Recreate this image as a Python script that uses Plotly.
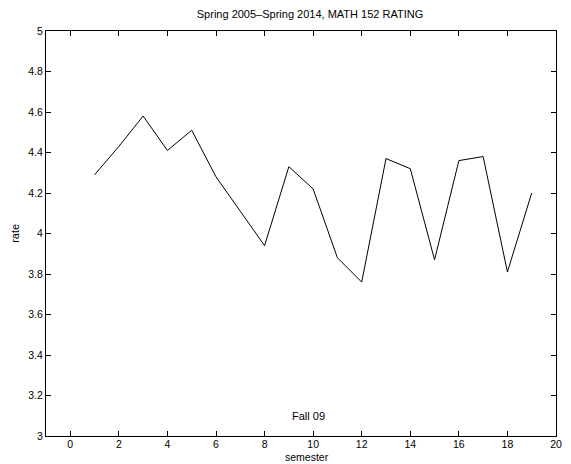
import plotly.graph_objects as go

semesters = list(range(1, 20))
ratings = [4.29, 4.43, 4.58, 4.41, 4.51, 4.28, 4.11, 3.94, 4.33, 4.22,
           3.88, 3.76, 4.37, 4.32, 3.87, 4.36, 4.38, 3.81, 4.20]
x_ticks = list(range(0, 21, 2))
y_ticks = [3, 3.2, 3.4, 3.6, 3.8, 4, 4.2, 4.4, 4.6, 4.8, 5]
y_tick_labels = ["3", "3.2", "3.4", "3.6", "3.8", "4", "4.2", "4.4", "4.6", "4.8", "5"]
note_text = "Fall 09"
note_x, note_y = 9.8, 3.1

font = "Liberation Sans, Arial, sans-serif"

W, H = 571, 464
L, R, T, B = 46, 9, 31, 28

fig = go.Figure()
fig.add_trace(go.Scatter(x=semesters, y=ratings, mode="lines",
                         line=dict(color="black", width=1), showlegend=False))

fig.add_annotation(x=note_x, y=note_y, text=note_text, showarrow=False,
                   font=dict(family=font, size=11, color="black"))

axis_common = dict(showgrid=False, zeroline=False, showline=True, linecolor="black",
                   linewidth=1, mirror="ticks", ticks="inside", ticklen=5,
                   tickcolor="black", ticklabeloverflow="allow",
                   tickfont=dict(family=font, size=10.5, color="black"))

fig.update_xaxes(range=[-1, 20], tickvals=x_ticks, ticklabelstandoff=-2, **axis_common)
fig.update_yaxes(range=[3, 5], tickvals=y_ticks, ticktext=y_tick_labels, **axis_common)

ph = H - T - B
pw = W - L - R
fig.add_annotation(xref="paper", yref="paper", x=(310 - L) / pw, y=-(464 - (H - B)) / ph,
                   yanchor="bottom", text="semester", showarrow=False, borderpad=0,
                   font=dict(family=font, size=10.5, color="black"))
fig.add_annotation(xref="paper", yref="paper", x=-(L - 14) / pw, y=0.5, xanchor="center",
                   text="rate", textangle=-90, showarrow=False,
                   font=dict(family=font, size=11, color="black"))

fig.update_layout(
    width=W, height=H,
    margin=dict(l=L, r=R, t=T, b=B),
    plot_bgcolor="white", paper_bgcolor="white",
    title=dict(text="Spring 2005\u2013Spring 2014, MATH 152 RATING", x=310 / W, xanchor="center",
               y=1 - 14 / H, yanchor="middle",
               font=dict(family=font, size=11, color="black")),
)

fig.write_html("out.html", config={"displayModeBar": False},
               post_script="document.body.style.margin='0';document.body.style.overflow='hidden';")
